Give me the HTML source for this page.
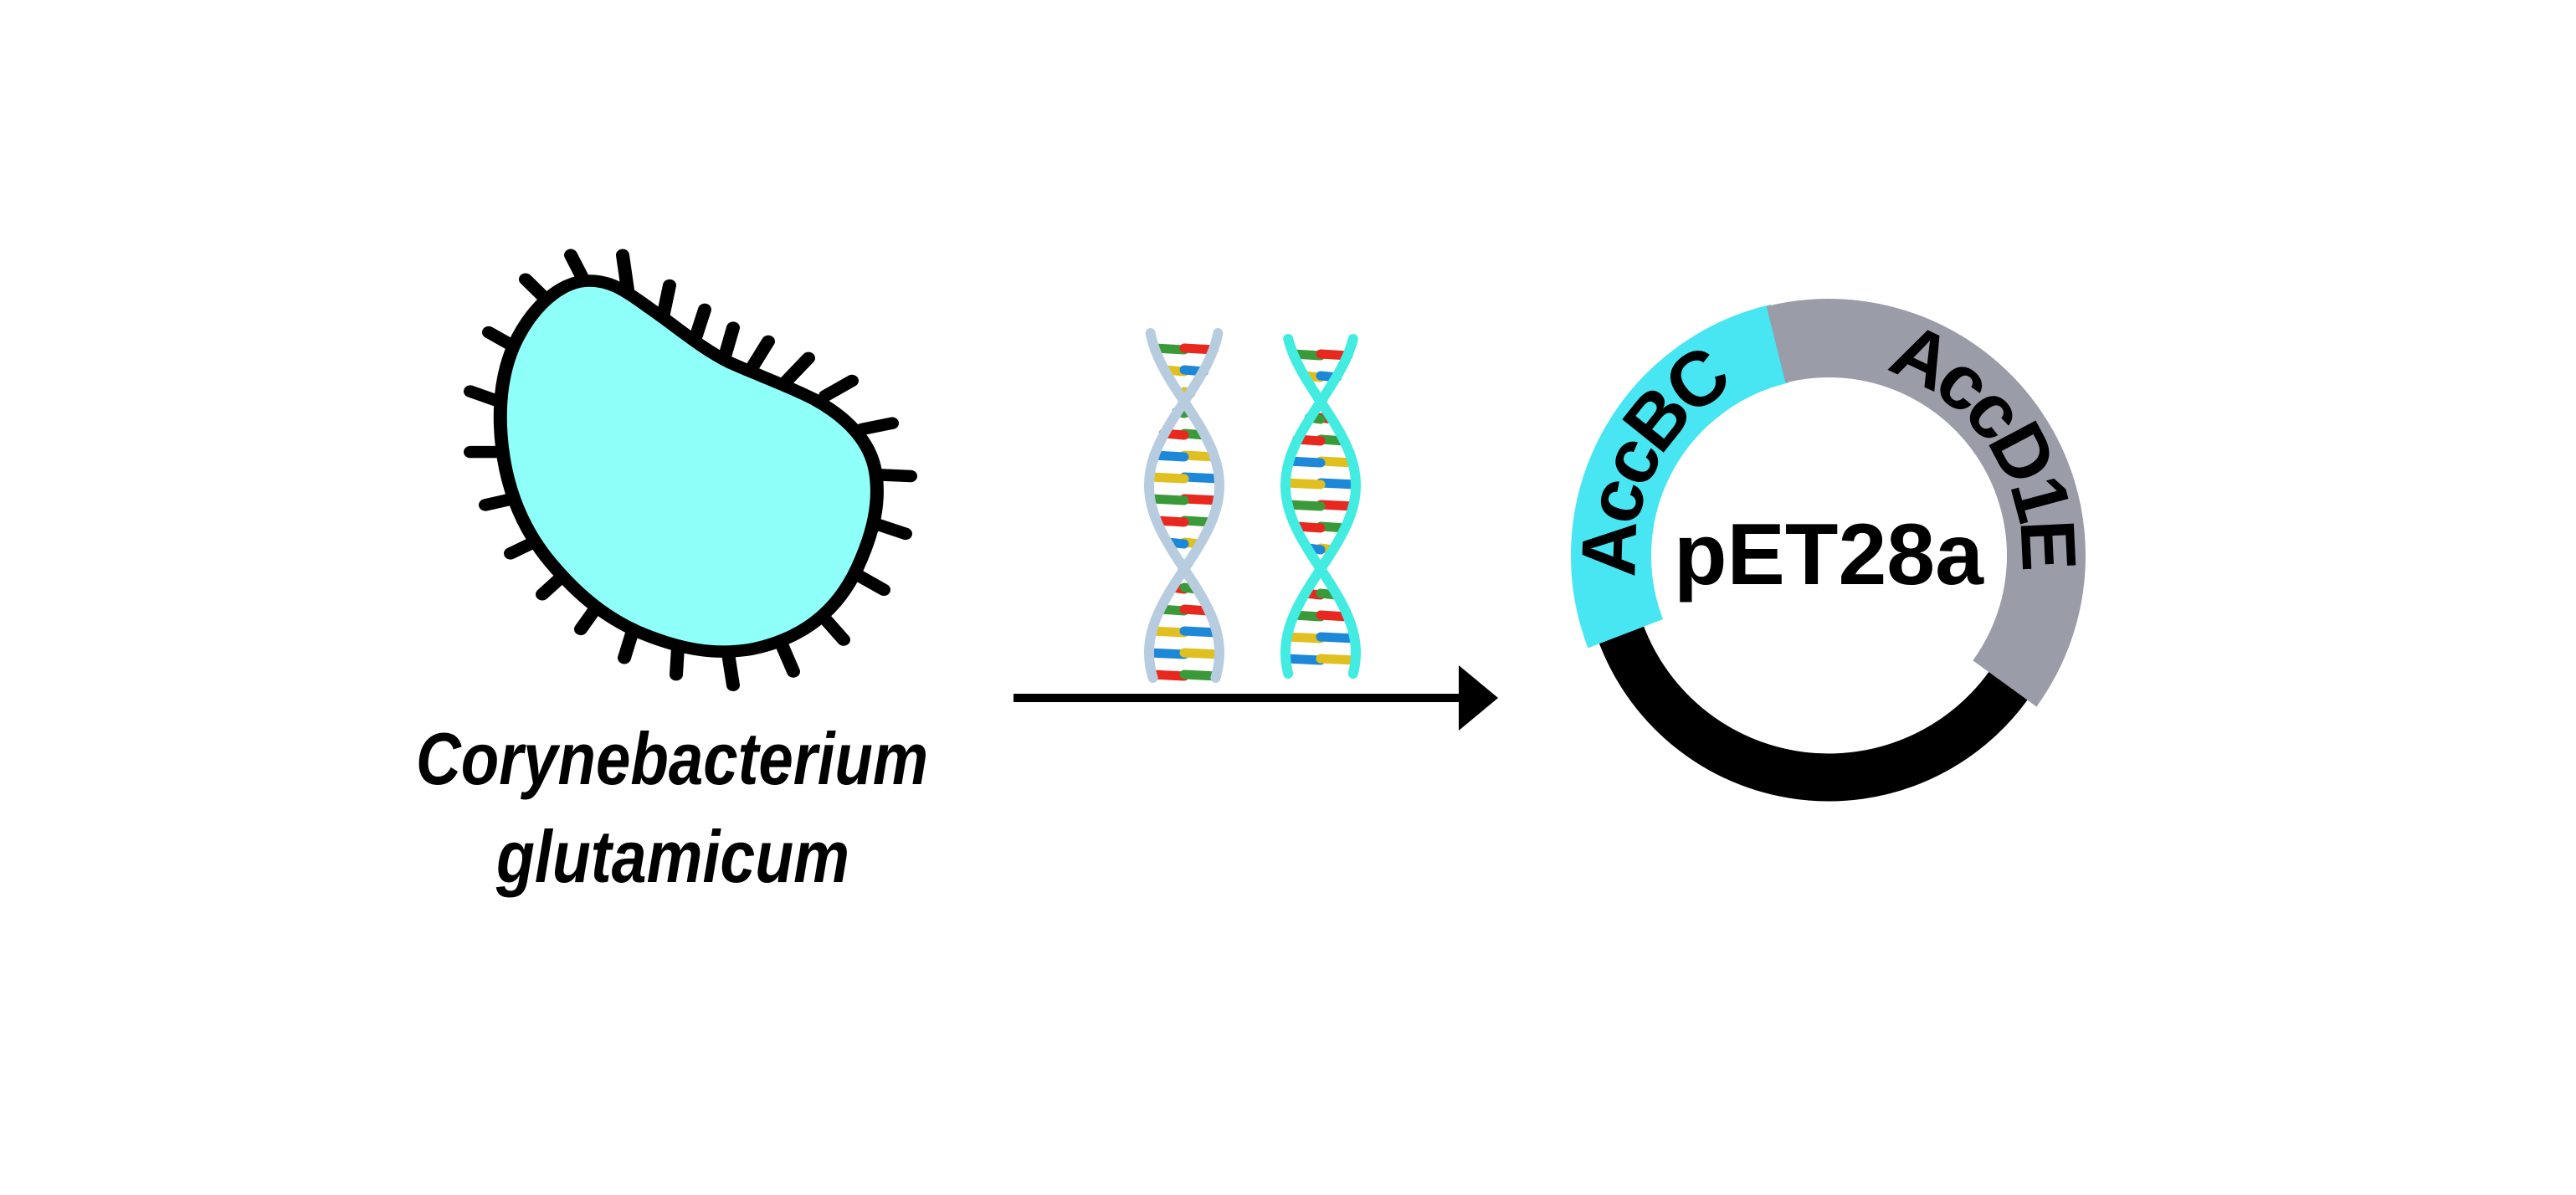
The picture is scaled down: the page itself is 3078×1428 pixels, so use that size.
<!DOCTYPE html>
<html><head><meta charset="utf-8"><style>
html,body{margin:0;padding:0;background:#fff;}
svg{display:block;}
text{font-family:"Liberation Sans",Arial,sans-serif;font-weight:bold;}
</style></head><body>
<svg id="fig" width="3078" height="1428" viewBox="0 0 3078 1428" xmlns="http://www.w3.org/2000/svg">
<rect width="3078" height="1428" fill="#fff"/>
<g id="bact" transform="translate(520,274) scale(0.4,0.362)">
  <g id="spikes" stroke="#000" stroke-width="40" stroke-linecap="round"></g>
  <path fill="#8ffff9" stroke="#000" stroke-width="40" stroke-linejoin="round"
   d="M460,170 C520,170 560,195 640,260 C720,320 790,390 880,440 C960,480 1060,520 1130,560 C1230,620 1300,700 1315,800 C1330,900 1310,1000 1260,1120 C1200,1260 1100,1350 950,1385 C830,1410 720,1380 620,1335 C500,1280 410,1190 330,1080 C260,980 215,860 200,720 C185,580 200,450 250,350 C310,230 390,170 460,170 Z"/>
</g>
<text x="497" y="937" font-size="88" font-style="italic" textLength="612" lengthAdjust="spacingAndGlyphs">Corynebacterium</text>
<text x="593" y="1054" font-size="88" font-style="italic" textLength="422" lengthAdjust="spacingAndGlyphs">glutamicum</text>
<g>
  <line x1="1211" y1="834" x2="1748" y2="834" stroke="#000" stroke-width="10"/>
  <polygon points="1743,795 1790,834 1743,873" fill="#000"/>
</g>
<g id="dna"></g>
<g>
  <path id="arcBlack" fill="none" stroke="#000" stroke-width="57"/>
  <path id="arcCyan" fill="none" stroke="#48e5f2" stroke-width="96"/>
  <path id="arcGray" fill="none" stroke="#9a9ca8" stroke-width="94"/>
  <path id="tpCyan" fill="none"/>
  <path id="tpGray" fill="none"/>
  <text font-size="92" dominant-baseline="central"><textPath href="#tpCyan" startOffset="50%" text-anchor="middle">AccBC</textPath></text>
  <text font-size="92" dominant-baseline="central"><textPath href="#tpGray" startOffset="50%" text-anchor="middle">AccD1E</textPath></text>
  <text x="2185" y="698" font-size="104" text-anchor="middle">pET28a</text>
</g>
</svg>
<script>
const NS='http://www.w3.org/2000/svg';
const spikeData=[[405,85,440,160],[560,85,575,200],[270,165,330,230],[700,185,680,290],[805,265,780,350],[890,325,865,420],[995,370,950,450],[1115,425,1050,500],[1245,500,1165,550],[1365,640,1275,660],[1420,815,1320,810],[1405,1005,1310,970],[1340,1190,1260,1140],[1220,1355,1160,1280],[1070,1460,1035,1370],[890,1505,875,1400],[720,1470,725,1380],[565,1415,590,1325],[435,1320,480,1250],[320,1205,380,1145],[225,1070,300,1030],[150,910,230,890],[105,735,200,735],[105,535,195,570],[160,340,240,390]];
const sp=document.getElementById('spikes');
spikeData.forEach(s=>{const l=document.createElementNS(NS,'line');


l.setAttribute('x1',s[0]);l.setAttribute('y1',s[1]);l.setAttribute('x2',s[2]);l.setAttribute('y2',s[3]);sp.appendChild(l);});

const cx=2185,cy=664;
function arc(r,a0,a1){const p=a=>[cx+r*Math.cos(a*Math.PI/180),cy+r*Math.sin(a*Math.PI/180)];
let d=a1-a0; if(d<0)d+=360; const s=p(a0),e=p(a0+d);
return `M${s[0]},${s[1]} A${r},${r} 0 ${d>180?1:0} 1 ${e[0]},${e[1]}`;}
document.getElementById('arcBlack').setAttribute('d',arc(265,34,161));
document.getElementById('arcCyan').setAttribute('d',arc(260,159,257));
document.getElementById('arcGray').setAttribute('d',arc(260,256,36));
document.getElementById('tpCyan').setAttribute('d',arc(262,145,270));
document.getElementById('tpGray').setAttribute('d',arc(262,258,34));

const dna=document.getElementById('dna');
const bp=[['#3a9a3a','#e8281e'],['#e0c020','#1e88d8'],['#1e88d8','#e0c020'],['#e8281e','#3a9a3a']];
function helix(cx,color,y0,y1,off){
  const A=42;const f=y=>A*Math.sin(Math.PI*(y-480)/200+off);
  let k=0;
  for(let y=y0+18;y<y1-4;y+=26){const a=cx+f(y),b=cx-f(y);const m=(a+b)/2;const c=bp[(k++)%4];
    [[a,m,c[0]],[m,b,c[1]]].forEach(q=>{const l=document.createElementNS(NS,'line');
    
    
    l.setAttribute('x1',q[0]);l.setAttribute('x2',q[1]);l.setAttribute('y1',y);l.setAttribute('y2',y+(q[0]<q[1]?2:-2));
    l.setAttribute('stroke',q[2]);l.setAttribute('stroke-width','11');l.setAttribute('stroke-linecap','round');dna.appendChild(l);});}
  [1,-1].forEach(sg=>{let d='';for(let y=y0;y<=y1;y+=4){d+=(d?'L':'M')+(cx+sg*f(y))+','+y;}
    const p=document.createElementNS(NS,'path');
    
    
    p.setAttribute('d',d);p.setAttribute('fill','none');p.setAttribute('stroke',color);p.setAttribute('stroke-width','12');p.setAttribute('stroke-linecap','round');dna.appendChild(p);});
}
helix(1415,'#b8cce0',398,813,0);
helix(1578,'#42ece0',405,808,0);
</script>
</body></html>
